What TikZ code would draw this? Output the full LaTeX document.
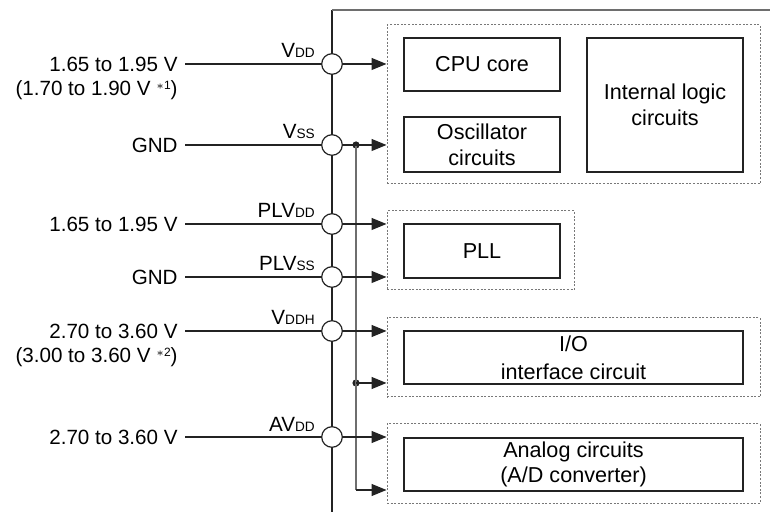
\documentclass[tikz,border=0pt]{standalone}
\usepackage{fontspec}
\setmainfont{Liberation Sans}
\usetikzlibrary{arrows.meta,positioning,calc}
\definecolor{wireBlack}{RGB}{35,35,35}
\definecolor{busGray}{RGB}{110,110,110}
\definecolor{groupGray}{RGB}{120,120,120}
\newcommand{\labelfont}{\fontsize{10.3}{13}\selectfont}
\newcommand{\boxfont}{\fontsize{10.8}{12.8}\selectfont}
\newcommand{\pinsub}[1]{{\fontsize{6.8}{7}\selectfont #1}}
\newcommand{\noteref}[1]{\raisebox{3.1pt}{\fontsize{6}{6}\selectfont$\ast$#1}}
\tikzset{
    circuitbox/.style={rectangle, draw=wireBlack, line width=0.65pt,
        inner sep=0pt, align=center, font=\boxfont},
    groupbox/.style={rectangle, draw=groupGray, line width=0.5pt,
        dash pattern=on 1pt off 0.8pt, inner sep=0pt},
    pin/.style={circle, draw=wireBlack, fill=white, line width=0.6pt,
        minimum size=10.3pt, inner sep=0pt},
    supply/.style={anchor=east, align=right, inner sep=0pt, font=\labelfont},
    pinlabel/.style={anchor=base east, inner sep=0pt, font=\labelfont},
    wire/.style={wireBlack, line width=0.6pt},
    bus/.style={busGray, line width=0.8pt},
    arr/.style={-{Triangle[length=7.5pt,width=6pt]}, wire},
    junction/.style={circle, fill=wireBlack, minimum size=3.6pt, inner sep=0pt},
}

\begin{document}
\begin{tikzpicture}[x=0.5pt, y=-0.5pt]
\useasboundingbox (0,0) rectangle (770,512);

% Chip outline
\draw[wire, line width=0.7pt] (332,10) -- (332,512);
\draw[busGray, line width=1pt] (332,10) -- (770,10);

% Circuit groups
\node[groupbox, minimum width=186.5pt, minimum height=79.5pt] (grpcore) at (573.5,104.5) {};
\node[groupbox, minimum width=93.5pt, minimum height=39.5pt] (grppll) at (480.5,250.5) {};
\node[groupbox, minimum width=186.5pt, minimum height=39.5pt] (grpio) at (573.5,357.5) {};
\node[groupbox, minimum width=186.5pt, minimum height=39.5pt] (grpana) at (573.5,463.5) {};

% Circuit blocks
\node[circuitbox, minimum width=78pt, minimum height=26.5pt] (cpu) at (482,64.5) {CPU core};
\node[circuitbox, minimum width=78pt, minimum height=27.5pt] (osc) at (482,144.5)
    {Oscillator\\circuits};
\node[circuitbox, minimum width=78pt, minimum height=67pt] (logic) at (665,105)
    {Internal logic\\circuits};
\node[circuitbox, minimum width=78pt, minimum height=27pt] (pll) at (482,251) {PLL};
\node[circuitbox, minimum width=169.5pt, minimum height=26.5pt] (io) at (573.5,357.5)
    {I/O\\[1.2pt]interface circuit};
\node[circuitbox, minimum width=169.5pt, minimum height=26.5pt] (analog) at (573.5,464.5)
    {Analog circuits\\(A/D converter)};

% Power pins
\node[pin] (vdd) at (332,64) {};
\node[pin] (vss) at (332,145) {};
\node[pin] (plvdd) at (332,224) {};
\node[pin] (plvss) at (332,277) {};
\node[pin] (vddh) at (332,331) {};
\node[pin] (avdd) at (332,437) {};

% Pin names
\node[pinlabel] at ($(vdd.west)+(-6,-6)$) {V\pinsub{DD}};
\node[pinlabel] at ($(vss.west)+(-6,-6)$) {V\pinsub{SS}};
\node[pinlabel] at ($(plvdd.west)+(-6,-6)$) {PLV\pinsub{DD}};
\node[pinlabel] at ($(plvss.west)+(-6,-6)$) {PLV\pinsub{SS}};
\node[pinlabel] at ($(vddh.west)+(-6,-6)$) {V\pinsub{DDH}};
\node[pinlabel] at ($(avdd.west)+(-6,-6)$) {AV\pinsub{DD}};

% Supply levels
\node[supply] (invdd) at (178,64) {1.65 to 1.95 V};
\node[supply] at (178,90) {(1.70 to 1.90 V \noteref{1})};
\node[supply] (invss) at (178,145) {GND};
\node[supply] (inplvdd) at (178,224) {1.65 to 1.95 V};
\node[supply] (inplvss) at (178,277) {GND};
\node[supply] (invddh) at (178,331) {2.70 to 3.60 V};
\node[supply] at (178,357) {(3.00 to 3.60 V \noteref{2})};
\node[supply] (inavdd) at (178,437) {2.70 to 3.60 V};

% Supply wires
\draw[wire] ([xshift=3.5pt]invdd.east) -- (vdd.west);
\draw[wire] ([xshift=3.5pt]invss.east) -- (vss.west);
\draw[wire] ([xshift=3.5pt]inplvdd.east) -- (plvdd.west);
\draw[wire] ([xshift=3.5pt]inplvss.east) -- (plvss.west);
\draw[wire] ([xshift=3.5pt]invddh.east) -- (vddh.west);
\draw[wire] ([xshift=3.5pt]inavdd.east) -- (avdd.west);

% Ground bus
\node[junction] (j1) at (356,145) {};
\node[junction] (j2) at (356,383) {};
\coordinate (jend) at (356,490);
\draw[bus] (j1.center) -- (jend);

% Arrows into the groups
\draw[arr] (vdd.east) -- (vdd.east -| grpcore.west);
\draw[arr] (vss.east) -- (vss.east -| grpcore.west);
\draw[arr] (plvdd.east) -- (plvdd.east -| grppll.west);
\draw[arr] (plvss.east) -- (plvss.east -| grppll.west);
\draw[arr] (vddh.east) -- (vddh.east -| grpio.west);
\draw[arr] (j2.center) -- (j2.center -| grpio.west);
\draw[arr] (avdd.east) -- (avdd.east -| grpana.west);
\draw[arr] (jend) -- (jend -| grpana.west);

\end{tikzpicture}
\end{document}
